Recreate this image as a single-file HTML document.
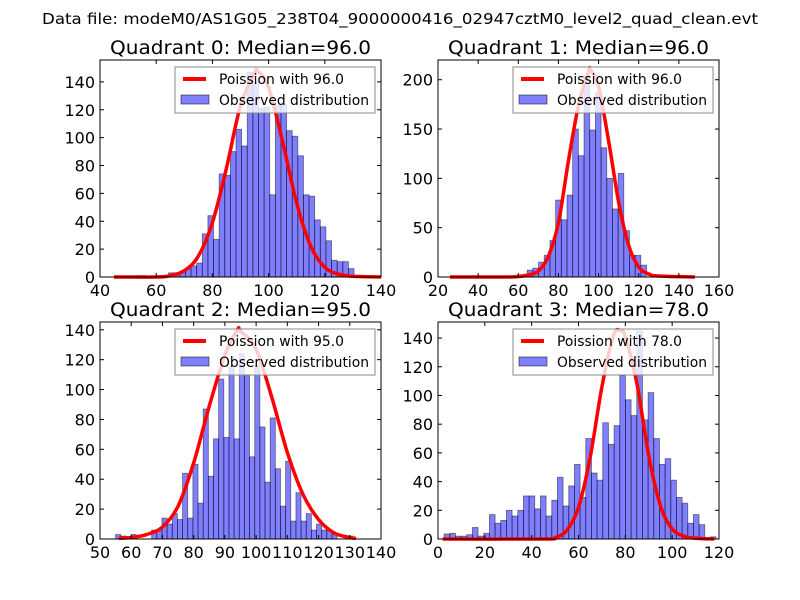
<!DOCTYPE html>
<html><head><meta charset="utf-8"><style>
body{margin:0;background:#fff}
svg{display:block}
text{font-family:"DejaVu Sans","Liberation Sans",sans-serif}
</style></head><body>
<svg id="fig" width="800" height="600" viewBox="0 0 800 600">
<rect width="800" height="600" fill="#fff"/>
<text x="42" y="24" font-size="15" textLength="716" lengthAdjust="spacingAndGlyphs">Data file: modeM0/AS1G05_238T04_9000000416_02947cztM0_level2_quad_clean.evt</text>
</svg>
<script>
// Quadrant 0
const q0Start = 50.4, q0Width = 2;
const q0Counts = [0,1,1,0,0,0,0,3,3,4,6,8,10,31,44,27,74,73,90,106,94,147,140,121,122,59,123,124,105,101,87,59,58,41,36,26,12,11,11,6];
const q0CurveX = [45,60,65,70,75,80,85,90,95,96,100,105,110,115,120,125,130,140];
const q0CurveY = [0,0,1,4.5,15,39,78,123,146,148,136,97,53,22,7,2,0.5,0];
const q0XTicks = [40,60,80,100,120,140];
const q0YTicks = [0,20,40,60,80,100,120,140];
// Quadrant 1
const q1Start = 58.8, q1Width = 2.83;
const q1Counts = [2,0,7,9,15,22,37,78,58,83,150,123,204,149,187,131,100,69,105,47,22,22,12];
const q1CurveX = [26,55,60,65,70,75,80,85,90,95,96,100,105,110,115,120,125,130,148];
const q1CurveY = [0,0,0.5,2,6,21,55,118,174,208,210,193,138,76,32,10,3,1,0];
const q1XTicks = [20,40,60,80,100,120,140,160];
const q1YTicks = [0,50,100,150,200];
// Quadrant 2
const q2Start = 55.0, q2Width = 1.65;
const q2Counts = [3,2,0,3,0,0,0,6,6,14,10,17,13,44,14,50,24,87,42,67,107,68,115,67,124,110,55,116,75,38,81,47,22,52,12,31,12,17,6,10,6,6,3,0,0,2];
const q2CurveX = [56,60,65,70,75,80,85,90,94,95,100,105,110,115,120,125,130,132];
const q2CurveY = [0.5,1,3,8,22,51,89,123,140,139,127,95,58,30,13,4,1,0.5];
const q2XTicks = [50,60,70,80,90,100,110,120,130,140];
const q2YTicks = [0,20,40,60,80,100,120,140];
// Quadrant 3
const q3Start = 2.6, q3Width = 2.42;
const q3Counts = [3.5,4,2,2,3,8,2,4,17,11,13,20,16,20,30,30,21,30,16,27,43,23,37,52,29,70,46,41,81,66,79,114,97,86,145,83,102,70,52,56,41,29,25,11,17,10,0,1.5];
const q3CurveX = [2,45,50,55,60,65,70,75,78,80,85,90,95,100,105,110,118];
const q3CurveY = [0,0,1,6,22,57,106,142,145,141,108,58,23,7,2,0.5,0];
const q3XTicks = [0,20,40,60,80,100,120];
const q3YTicks = [0,20,40,60,80,100,120,140];

const NS = "http://www.w3.org/2000/svg";
const fig = document.getElementById('fig');
function mk(tag, attrs, parent){
  const e = document.createElementNS(NS, tag);
  for (const k in attrs) e.setAttribute(k, attrs[k]);
  parent.appendChild(e); return e;
}
function smoothPath(p){
  let d = 'M' + p[0][0].toFixed(1) + ',' + p[0][1].toFixed(1);
  for (let i = 0; i < p.length - 1; i++){
    const p0 = p[i-1] || p[i], p1 = p[i], p2 = p[i+1], p3 = p[i+2] || p2;
    const c1x = p1[0] + (p2[0]-p0[0])/6, c1y = p1[1] + (p2[1]-p0[1])/6;
    const c2x = p2[0] - (p3[0]-p1[0])/6, c2y = p2[1] - (p3[1]-p1[1])/6;
    d += ' C' + c1x.toFixed(1) + ',' + c1y.toFixed(1) + ' ' + c2x.toFixed(1) + ',' + c2y.toFixed(1) + ' ' + p2[0].toFixed(1) + ',' + p2[1].toFixed(1);
  }
  return d;
}
function panel(id, title, box, xmin, xmax, ymax, start, width, counts, cx, cy, xt, yt, mu){
  const [L,T,R,B] = box;
  const sx = v => L + (v - xmin) / (xmax - xmin) * (R - L);
  const sy = v => B - v / ymax * (B - T);
  const g = mk('g', {}, fig);
  
  
  const t = mk('text', {x:L+10, y:T-6, 'font-size':19, textLength:261, lengthAdjust:'spacingAndGlyphs'}, g);
  t.textContent = title;
  
  
  counts.forEach((c, i) => {
    if (c <= 0) return;
    const x0 = sx(start + i * width), x1 = sx(start + (i + 1) * width);
    const r = mk('rect', {x:x0, y:sy(c), width:x1 - x0, height:B - sy(c), fill:'rgba(0,0,255,0.5)', stroke:'rgba(0,0,0,0.5)', 'stroke-width':0.8}, g);
    
    
  });
  const pts = cx.map((x, i) => [sx(x), sy(cy[i])]);
  const pl = mk('path', {d:smoothPath(pts), fill:'none', stroke:'#ff0000', 'stroke-width':3.5, 'stroke-linejoin':'round'}, g);
  
  
  const lg = mk('g', {}, g);
  
  
  const lx = R - 206, ly = T + 7;
  mk('rect', {x:lx, y:ly, width:200, height:46, fill:'rgba(255,255,255,0.8)', stroke:'#888', 'stroke-width':1}, lg);
  mk('line', {x1:lx+8, y1:ly+12, x2:lx+31, y2:ly+12, stroke:'#ff0000', 'stroke-width':4}, lg);
  mk('rect', {x:lx+6, y:ly+28, width:28, height:9, fill:'rgba(0,0,255,0.5)', stroke:'rgba(0,0,0,0.5)'}, lg);
  const t1 = mk('text', {x:lx+44, y:ly+17, 'font-size':14, textLength:125, lengthAdjust:'spacingAndGlyphs'}, lg);
  t1.textContent = 'Poission with ' + mu;
  
  
  const t2 = mk('text', {x:lx+44, y:ly+38, 'font-size':14, textLength:150, lengthAdjust:'spacingAndGlyphs'}, lg);
  t2.textContent = 'Observed distribution';
  
  
  const fr = mk('rect', {x:L, y:T, width:R - L, height:B - T, fill:'none', stroke:'#000', 'stroke-width':1}, g);
  
  
  xt.forEach(v => {
    const x = sx(v);
    mk('line', {x1:x, y1:B, x2:x, y2:B-4, stroke:'#000'}, g);
    mk('line', {x1:x, y1:T, x2:x, y2:T+4, stroke:'#000'}, g);
    const tl = mk('text', {x:x, y:B+19, 'font-size':16, 'text-anchor':'middle'}, g);
    tl.textContent = v;
    
    
  });
  yt.forEach(v => {
    const y = sy(v);
    mk('line', {x1:L, y1:y, x2:L+4, y2:y, stroke:'#000'}, g);
    mk('line', {x1:R, y1:y, x2:R-4, y2:y, stroke:'#000'}, g);
    const tl = mk('text', {x:L-5, y:y+6, 'font-size':16, 'text-anchor':'end'}, g);
    tl.textContent = v;
    
    
  });
}
panel(0, 'Quadrant 0: Median=96.0', [100,60,381,277], 40, 140, 155.7, q0Start, q0Width, q0Counts, q0CurveX, q0CurveY, q0XTicks, q0YTicks, '96.0');
panel(1, 'Quadrant 1: Median=96.0', [438,60,719,277], 20, 160, 220, q1Start, q1Width, q1Counts, q1CurveX, q1CurveY, q1XTicks, q1YTicks, '96.0');
panel(2, 'Quadrant 2: Median=95.0', [100,322,381,539], 50, 140, 145.2, q2Start, q2Width, q2Counts, q2CurveX, q2CurveY, q2XTicks, q2YTicks, '95.0');
panel(3, 'Quadrant 3: Median=78.0', [438,322,719,539], 0, 120, 151.2, q3Start, q3Width, q3Counts, q3CurveX, q3CurveY, q3XTicks, q3YTicks, '78.0');
</script>
</body></html>
